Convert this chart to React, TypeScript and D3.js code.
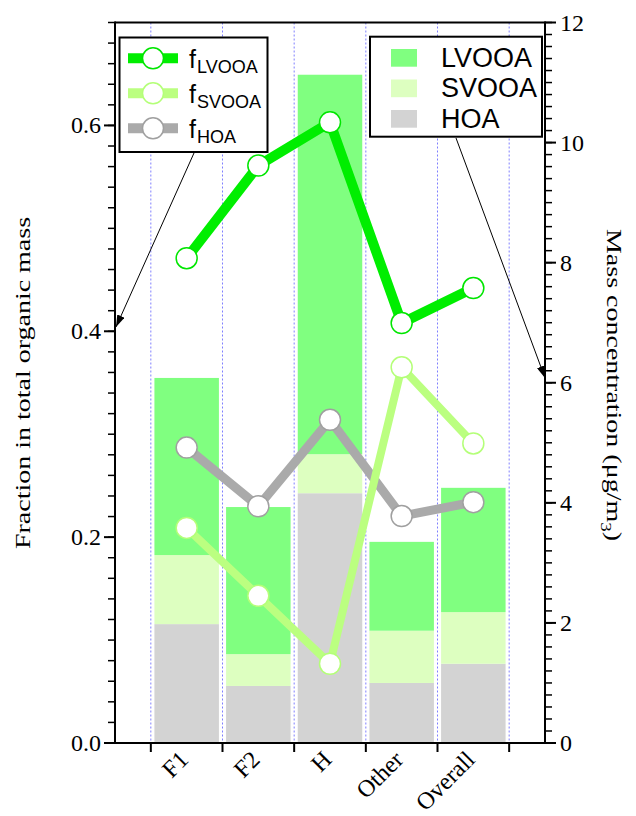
import React from 'react';
import * as d3 from 'd3';

// categories and values
const categories = ['F1', 'F2', 'H', 'Other', 'Overall'];
const massHOA = [1.98, 0.95, 4.16, 1.0, 1.32];
const massSVOOA = [1.15, 0.53, 0.65, 0.87, 0.86];
const massLVOOA = [2.95, 2.45, 6.32, 1.48, 2.07];
const fracLVOOA = [0.471, 0.561, 0.603, 0.408, 0.442];
const fracSVOOA = [0.209, 0.143, 0.077, 0.365, 0.291];
const fracHOA = [0.287, 0.23, 0.314, 0.2205, 0.234];
const leftTicks = [0, 0.2, 0.4, 0.6];
const rightTicks = [0, 2, 4, 6, 8, 10, 12];

const W = 636;
const H = 816;
const left = 115, right = 545, top = 22.5, bottom = 743;
const serif = '"Liberation Serif", "Times New Roman", serif';
const sans = '"Liberation Sans", Arial, sans-serif';

const barColors: Record<string, string> = { hoa: '#d3d3d3', svooa: '#ddffc0', lvooa: '#80ff80' };

export default function App() {
  const x = d3.scaleLinear().domain([0, 6]).range([left, right]);
  const yL = d3.scaleLinear().domain([0, 0.7]).range([bottom, top]);
  const yR = d3.scaleLinear().domain([0, 12]).range([bottom, top]);

  const rows = categories.map((c, i) => ({ cat: c, hoa: massHOA[i], svooa: massSVOOA[i], lvooa: massLVOOA[i] }));
  const stacked = d3.stack<any>().keys(['hoa', 'svooa', 'lvooa'])(rows);
  const barW = (x(1) - x(0)) * 0.9;

  const line = d3.line<number>().x((d, i) => x(i + 1)).y(d => yL(d));
  const series = [
    { name: 'HOA', vals: fracHOA, color: '#aaaaaa', ring: '#a0a0a0', width: 9 },
    { name: 'SVOOA', vals: fracSVOOA, color: '#bbff80', ring: '#b4ff78', width: 8 },
    { name: 'LVOOA', vals: fracLVOOA, color: '#00ee00', ring: '#00e600', width: 10 },
  ];

  const boundaries = d3.range(0.5, 6, 1);
  const leftMinor = d3.range(0, 36).map(i => i * 0.02);
  const rightMinor = d3.range(0, 61).map(i => i * 0.2);

  const lineLegend = [
    { sub: 'LVOOA', color: '#00ee00', ring: '#00e600' },
    { sub: 'SVOOA', color: '#bbff80', ring: '#b4ff78' },
    { sub: 'HOA', color: '#aaaaaa', ring: '#a0a0a0' },
  ];
  const barLegend = [
    { label: 'LVOOA', color: barColors.lvooa },
    { label: 'SVOOA', color: barColors.svooa },
    { label: 'HOA', color: barColors.hoa },
  ];

  return (
    <div style={{ position: 'fixed', left: 0, top: 0 }}>
      <svg width={W} height={H} style={{ display: 'block', background: '#fff' }}>
        <defs>
          <marker id="arrow" viewBox="0 0 12 8" refX="12" refY="4" markerWidth="12" markerHeight="8"
            markerUnits="userSpaceOnUse" orient="auto">
            <path d="M0,0 L12,4 L0,8 Z" fill="#000" />
          </marker>
        </defs>

        {/* dotted category separators */}
        {boundaries.map(b => (
          <line key={b} x1={x(b)} x2={x(b)} y1={top} y2={bottom}
            stroke="#7f7fff" strokeWidth={1} strokeDasharray="2,2" />
        ))}

        {/* stacked mass bars */}
        {stacked.map(layer => (
          <g key={layer.key} fill={barColors[layer.key]}>
            {layer.map((d, i) => (
              <rect key={i} x={x(i + 1) - barW / 2} width={barW}
                y={yR(d[1])} height={yR(d[0]) - yR(d[1])} />
            ))}
          </g>
        ))}

        {/* fraction lines */}
        {series.map(s => (
          <g key={s.name}>
            <path d={line(s.vals) || ''} fill="none" stroke={s.color} strokeWidth={s.width} strokeLinejoin="miter" />
            {s.vals.map((v, i) => (
              <circle key={i} cx={x(i + 1)} cy={yL(v)} r={10.5} fill="#fff" stroke={s.ring} strokeWidth={1.5} />
            ))}
          </g>
        ))}

        {/* frame */}
        <line x1={left} x2={right} y1={top} y2={top} stroke="#000" strokeWidth={2} />
        <line x1={left} x2={right} y1={bottom} y2={bottom} stroke="#000" strokeWidth={2} />
        <line x1={left} x2={left} y1={top - 1} y2={bottom + 1} stroke="#000" strokeWidth={2} />
        <line x1={right} x2={right} y1={top - 1} y2={bottom + 1} stroke="#000" strokeWidth={2} />

        {/* bottom ticks */}
        {boundaries.map(b => (
          <line key={b} x1={x(b)} x2={x(b)} y1={bottom} y2={bottom + 9} stroke="#000" strokeWidth={2} />
        ))}
        {categories.map((c, i) => (
          <text key={c} transform={`translate(${x(i + 1) + 3},${bottom + 18}) rotate(-45)`}
            textAnchor="end" fontFamily={serif} fontSize={24}>{c}</text>
        ))}

        {/* left axis */}
        {leftMinor.map(t => (
          <line key={t} x1={left - 7} x2={left} y1={yL(t)} y2={yL(t)} stroke="#000" strokeWidth={1.5} />
        ))}
        {leftTicks.map(t => (
          <g key={t}>
            <line x1={left - 11} x2={left} y1={yL(t)} y2={yL(t)} stroke="#000" strokeWidth={2} />
            <text x={101} y={yL(t) + 8} textAnchor="end" fontFamily={serif} fontSize={24}>{t.toFixed(1)}</text>
          </g>
        ))}
        <text transform={`translate(30,383) rotate(-90) scale(1,0.75)`} textAnchor="middle"
          fontFamily={serif} fontSize={28}>Fraction in total organic mass</text>

        {/* right axis */}
        {rightMinor.map(t => (
          <line key={t} x1={right} x2={right + 7} y1={yR(t)} y2={yR(t)} stroke="#000" strokeWidth={1.5} />
        ))}
        {rightTicks.map(t => (
          <g key={t}>
            <line x1={right} x2={right + 11} y1={yR(t)} y2={yR(t)} stroke="#000" strokeWidth={2} />
            <text x={560} y={yR(t) + 8} textAnchor="start" fontFamily={serif} fontSize={24}>{t}</text>
          </g>
        ))}
        <text transform={`translate(607,385) rotate(90) scale(1,0.75)`} textAnchor="middle"
          fontFamily={serif} fontSize={28}>
          Mass concentration (μg/m<tspan fontSize={19} dy={8}>3</tspan><tspan dy={-8}>)</tspan>
        </text>

        {/* line legend */}
        <rect x={119.5} y={37.5} width={148} height={114.5} fill="#fff" stroke="#000" strokeWidth={2} />
        {lineLegend.map((d, i) => {
          const cy = 58.3 + i * 35;
          return (
            <g key={d.sub}>
              <line x1={128} x2={178} y1={cy} y2={cy} stroke={d.color} strokeWidth={10} />
              <circle cx={153} cy={cy} r={10.5} fill="#fff" stroke={d.ring} strokeWidth={1.5} />
              <text x={189} y={cy + 10} fontFamily={sans} fontSize={25}>f</text>
              <text x={197} y={cy + 14.5} fontFamily={sans} fontSize={18}>{d.sub}</text>
            </g>
          );
        })}

        {/* bar legend */}
        <rect x={370} y={36.7} width={172} height={100} fill="#fff" stroke="#000" strokeWidth={2} />
        {barLegend.map((d, i) => (
          <g key={d.label}>
            <rect x={391} y={49 + i * 30.5} width={26} height={17.7} fill={d.color} />
            <text x={441} y={66.5 + i * 30.5} fontFamily={sans} fontSize={27}>{d.label}</text>
          </g>
        ))}

        {/* arrows */}
        <line x1={194} y1={153} x2={116} y2={327} stroke="#000" strokeWidth={1} markerEnd="url(#arrow)" />
        <line x1={456} y1={138} x2={545} y2={378} stroke="#000" strokeWidth={1} markerEnd="url(#arrow)" />
      </svg>
    </div>
  );
}
